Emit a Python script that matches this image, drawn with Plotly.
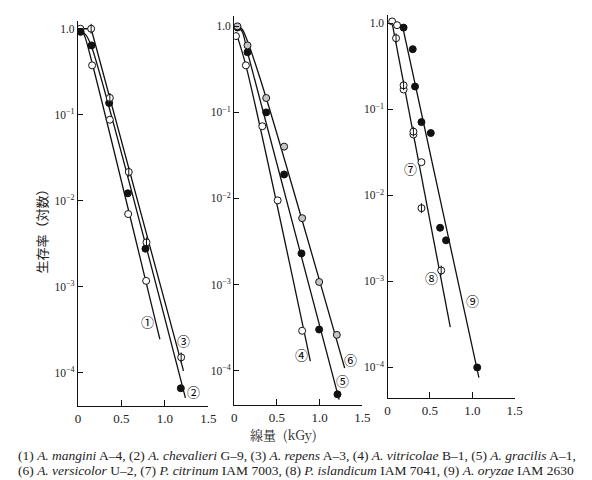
import numpy as np
import plotly.graph_objects as go

W, H = 592, 480

# ---------------- data ----------------
# Panel 1
s1_dose = [0.027, 0.162, 0.366, 0.577, 0.784]
s1_surv = [1.0, 0.375, 0.0875, 0.0070, 0.00117]
s2_dose = [0.03, 0.155, 0.358, 0.573, 0.776, 1.183]
s2_surv = [0.92, 0.64, 0.137, 0.0122, 0.00277, 6.6e-5]
s3_dose = [0.151, 0.366, 0.584, 0.788, 1.187]
s3_surv = [1.0, 0.157, 0.0216, 0.00328, 1.51e-4]
fit1_dose = [0.02, 0.07, 0.162, 0.942]
fit1_surv = [1.0, 0.85, 0.40, 2.45e-4]
fit2_dose = [0.03, 0.09, 0.155, 1.236]
fit2_surv = [0.95, 0.85, 0.62, 5.1e-5]
fit3_dose = [0.027, 0.151, 1.214]
fit3_surv = [1.0, 1.0, 1.05e-4]

# Panel 2
s4_dose = [0.02, 0.136, 0.328, 0.508, 0.795]
s4_surv = [0.77, 0.352, 0.069, 0.0095, 2.9e-4]
s5_dose = [0.037, 0.155, 0.374, 0.584, 0.787, 0.994, 1.209]
s5_surv = [0.97, 0.50, 0.10, 0.019, 0.0023, 3.0e-4, 5.3e-5]
s6_dose = [0.037, 0.155, 0.374, 0.584, 0.795, 0.994, 1.201]
s6_surv = [1.0, 0.60, 0.147, 0.040, 0.0059, 0.00107, 2.6e-4]
fit4_dose = [0.02, 0.136, 0.891]
fit4_surv = [0.85, 0.352, 1.29e-4]
fit5_dose = [0.03, 0.09, 0.155, 1.228]
fit5_surv = [0.98, 0.88, 0.50, 4.6e-5]
fit6_dose = [0.03, 0.09, 0.16, 0.374, 1.293]
fit6_surv = [1.0, 0.93, 0.65, 0.147, 1.07e-4]

# Panel 3
s7_dose = [0.054, 0.112, 0.189, 0.305, 0.40]
s7_surv = [1.05, 0.95, 0.17, 0.051, 0.0243]
s8_dose = [0.10, 0.189, 0.305, 0.40, 0.633]
s8_surv = [0.67, 0.19, 0.055, 0.0071, 0.00134]
s9_dose = [0.189, 0.297, 0.324, 0.40, 0.51, 0.62, 0.69, 1.058]
s9_surv = [0.89, 0.50, 0.184, 0.071, 0.053, 0.0042, 0.0030, 1.0e-4]
fit78_dose = [0.05, 0.74]
fit78_surv = [1.05, 2.95e-4]
fit9_dose = [0.04, 0.177, 1.078]
fit9_surv = [1.0, 0.92, 7.6e-5]

# curve labels: (text, panel, dose, survival)
label_text = ["①", "②", "③", "④", "⑤", "⑥", "⑦", "⑧", "⑨"]
label_panel = [1, 1, 1, 2, 2, 2, 3, 3, 3]
label_dose = [0.80, 1.33, 1.217, 0.788, 1.27, 1.362, 0.274, 0.517, 1.0]
label_surv = [10**-3.41, 10**-4.22, 10**-3.62, 10**-3.81, 10**-4.11, 10**-3.87,
              10**-1.684, 10**-2.96, 10**-3.22]

x_ticks = [0, 0.5, 1.0, 1.5]
x_ticktext = ["0", "0.5", "1.0", "1.5"]
y_ticks = [1, 1e-1, 1e-2, 1e-3, 1e-4]
y_ticktext = ["1.0", "10<sup>−1</sup>", "10<sup>−2</sup>", "10<sup>−3</sup>", "10<sup>−4</sup>"]

legend_lines = [
    "(1) <i>A. mangini</i> A–4, (2) <i>A. chevalieri</i> G–9, (3) <i>A. repens</i> A–3, (4) <i>A. vitricolae</i> B–1, (5) <i>A. gracilis</i> A–1,",
    "(6) <i>A. versicolor</i> U–2, (7) <i>P. citrinum</i> IAM 7003, (8) <i>P. islandicum</i> IAM 7041, (9) <i>A. oryzae</i> IAM 2630",
]

# ---------------- layout geometry (pixels) ----------------
panels = {
    1: dict(x0=68.3, x15=201.1, yb=398, yt=13, lb=-4.387, lt=0.09),
    2: dict(x0=227.5, x15=358.0, yb=397, yt=8, lb=-4.40, lt=0.12),
    3: dict(x0=383.7, x15=513.2, yb=390, yt=7, lb=-4.355, lt=0.096),
}

fig = go.Figure()
BLACK = "#111111"
serif = "Liberation Serif, Times New Roman, serif"


def add_line(p, xs, ys, shape="spline"):
    fig.add_trace(go.Scatter(x=xs, y=ys, mode="lines", xaxis=f"x{p}", yaxis=f"y{p}",
                             line=dict(color=BLACK, width=1.3, shape=shape, smoothing=0.8),
                             showlegend=False, hoverinfo="skip"))


def add_pts(p, xs, ys, kind):
    common = dict(x=xs, y=ys, mode="markers", xaxis=f"x{p}", yaxis=f"y{p}",
                  showlegend=False, hoverinfo="skip")
    if kind == "open":
        fig.add_trace(go.Scatter(**common, marker=dict(symbol="circle", size=7, color="white",
                                                       line=dict(color=BLACK, width=1))))
    elif kind == "filled":
        fig.add_trace(go.Scatter(**common, marker=dict(symbol="circle", size=7, color=BLACK,
                                                       line=dict(color=BLACK, width=1))))
    elif kind == "gray":
        fig.add_trace(go.Scatter(**common, marker=dict(symbol="circle", size=7, color="#c4c4c4",
                                                       line=dict(color=BLACK, width=1))))
    elif kind == "phi":
        fig.add_trace(go.Scatter(**common, marker=dict(symbol="circle", size=7, color="white",
                                                       line=dict(color=BLACK, width=1))))
        fig.add_trace(go.Scatter(**common, marker=dict(symbol="line-ns", size=7,
                                                       line=dict(color=BLACK, width=1))))


# Panel 1
add_line(1, fit1_dose, fit1_surv)
add_line(1, fit2_dose, fit2_surv)
add_line(1, fit3_dose, fit3_surv, shape="linear")
add_pts(1, s1_dose, s1_surv, "open")
add_pts(1, s2_dose, s2_surv, "filled")
add_pts(1, s3_dose, s3_surv, "phi")
# Panel 2
add_line(2, fit4_dose, fit4_surv)
add_line(2, fit5_dose, fit5_surv)
add_line(2, fit6_dose, fit6_surv)
add_pts(2, s4_dose, s4_surv, "open")
add_pts(2, s5_dose, s5_surv, "filled")
add_pts(2, s6_dose, s6_surv, "gray")
# Panel 3
add_line(3, fit78_dose, fit78_surv, shape="linear")
add_line(3, fit9_dose, fit9_surv, shape="linear")
add_pts(3, s7_dose, s7_surv, "open")
add_pts(3, s8_dose, s8_surv, "phi")
add_pts(3, s9_dose, s9_surv, "filled")

layout = dict(width=W, height=H, margin=dict(l=0, r=0, t=0, b=0),
              paper_bgcolor="white", plot_bgcolor="white", showlegend=False)

for p, g in panels.items():
    xd = [g["x0"] / W, g["x15"] / W]
    yd = [1 - g["yb"] / H, 1 - g["yt"] / H]
    sfx = "" if p == 1 else str(p)
    layout[f"xaxis{sfx}"] = dict(domain=xd, range=[0, 1.5], anchor=f"y{p}",
                                 showgrid=False, zeroline=False, showline=True,
                                 linecolor=BLACK, linewidth=1.4, mirror=False,
                                 ticks="inside", ticklen=6, tickwidth=1.2, tickcolor=BLACK,
                                 tickvals=x_ticks, ticktext=x_ticktext,
                                 tickfont=dict(family=serif, size=13, color="#222"))
    layout[f"yaxis{sfx}"] = dict(domain=yd, type="log", range=[g["lb"], g["lt"]],
                                 anchor=f"x{p}", showgrid=False, zeroline=False,
                                 showline=True, linecolor=BLACK, linewidth=1.4,
                                 ticks="inside", ticklen=5, tickwidth=1.2, tickcolor=BLACK,
                                 tickvals=y_ticks, ticktext=y_ticktext,
                                 tickfont=dict(family=serif, size=11.5, color="#222"))

annotations = []
for t, p, d, s in zip(label_text, label_panel, label_dose, label_surv):
    annotations.append(dict(text=t, x=d, y=float(np.log10(s)), xref=f"x{p}", yref=f"y{p}",
                            xanchor="center", yanchor="middle",
                            showarrow=False, font=dict(family="Noto Sans CJK JP", size=13, color="#000000")))

annotations.append(dict(text="線量  (kGy)", x=278 / W, y=1 - 426 / H, xref="paper", yref="paper",
                        xanchor="center", yanchor="middle", showarrow=False,
                        font=dict(family="Noto Serif CJK JP, Noto Sans CJK JP", size=13, color="#222")))
annotations.append(dict(text="生存率（対数）", x=32 / W, y=1 - 220 / H, xref="paper", yref="paper",
                        xanchor="center", yanchor="middle",
                        textangle=-90, showarrow=False,
                        font=dict(family="Noto Sans CJK JP", size=13, color="#222")))
for i, line in enumerate(legend_lines):
    annotations.append(dict(text=line, x=5 / W, y=1 - (447 + 15 * i) / H, xref="paper", yref="paper",
                            xanchor="left", yanchor="middle", showarrow=False,
                            font=dict(family=serif, size=13.5, color="#222")))

layout["annotations"] = annotations
fig.update_layout(**layout)
fig.write_html("out.html")
